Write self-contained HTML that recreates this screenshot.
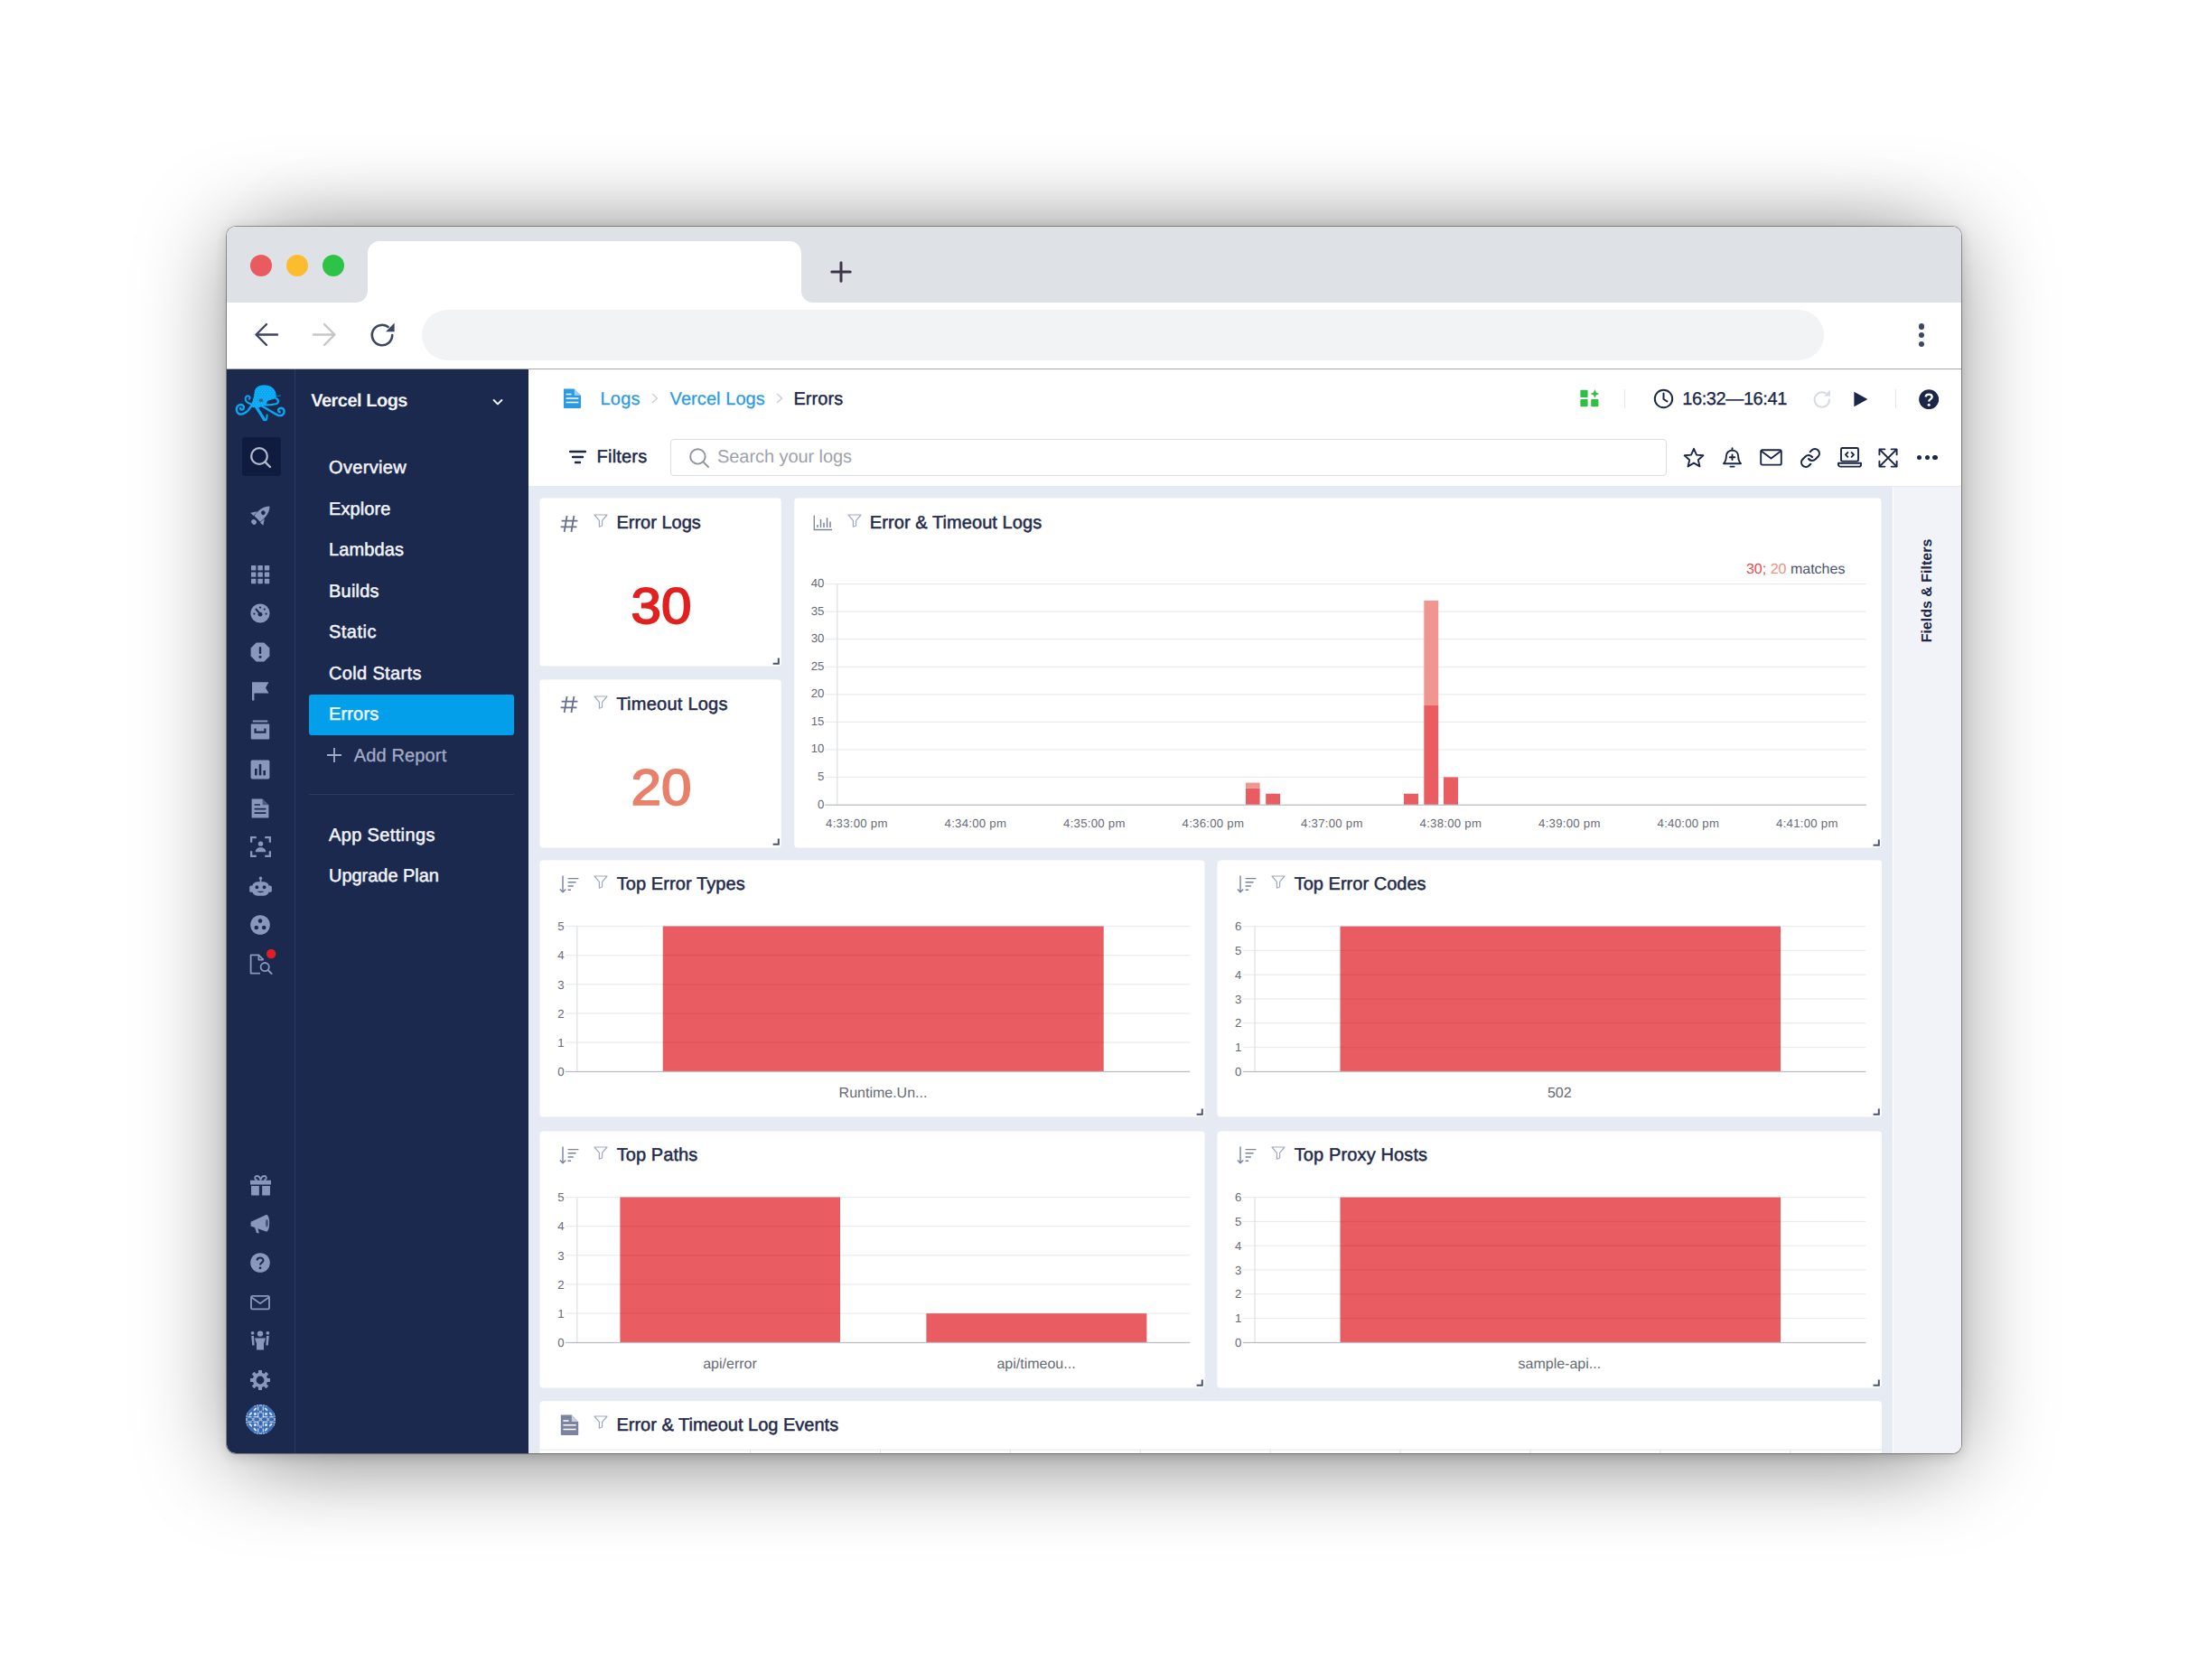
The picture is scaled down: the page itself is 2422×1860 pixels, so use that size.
<!DOCTYPE html>
<html lang="en"><head><meta charset="utf-8"><title>Errors - Vercel Logs</title>
<style>
html,body{margin:0;padding:0;}
body{width:2422px;height:1860px;background:#fff;overflow:hidden;position:relative;
 font-family:"Liberation Sans",sans-serif;}
.b{position:absolute;display:block;}
.t{position:absolute;white-space:nowrap;line-height:1;text-rendering:geometricPrecision;}
#shadow{position:absolute;left:250.5px;top:250.5px;width:1920.5px;height:1358.5px;border-radius:10px;
 box-shadow:0 8px 100px rgba(0,0,0,.40),0 3px 14px rgba(0,0,0,.16),0 0 0 1px rgba(0,0,0,.33);}
#shadow2{position:absolute;left:320px;top:250.5px;width:1782px;height:1358.5px;border-radius:10px;box-shadow:0 2px 90px rgba(0,0,0,.15);}
#win{position:absolute;left:250.5px;top:250.5px;width:1920.5px;height:1358.5px;border-radius:10px;overflow:hidden;background:#fff;}
#abs{position:absolute;left:-250.5px;top:-250.5px;width:2422px;height:1860px;}
</style></head>
<body>
<div id="shadow2"></div>
<div id="shadow"></div>
<div id="win"><div id="abs">
<!-- browser chrome -->
<div class="b" style="left:251.00px;top:251.00px;width:1920.00px;height:84.00px;background:#dee1e6;"></div>
<div class="b" style="left:277px;top:282px;width:24px;height:24px;border-radius:50%;background:#ea5b5f;"></div>
<div class="b" style="left:317px;top:282px;width:24px;height:24px;border-radius:50%;background:#fbbd2e;"></div>
<div class="b" style="left:357px;top:282px;width:24px;height:24px;border-radius:50%;background:#2dc346;"></div>
<svg class="b" style="left:394.00px;top:267.00px;" width="506" height="68" viewBox="0 0 506 68"><path d="M0 68 C7 68 13 62 13 55 L13 13 C13 6 19 0 26 0 L480 0 C487 0 493 6 493 13 L493 55 C493 62 499 68 506 68 Z" fill="#fff"/></svg>
<svg class="b" style="left:918.00px;top:288.00px;" width="26" height="26" viewBox="0 0 26 26"><path d="M13 2.8V23.2M2.8 13H23.2" stroke="#3b3648" stroke-width="3" stroke-linecap="round" fill="none"/></svg>
<div class="b" style="left:251.00px;top:335.00px;width:1920.00px;height:73.00px;background:#fff;"></div>
<div class="b" style="left:251.00px;top:408.00px;width:1920.00px;height:1.00px;background:#a9a9ab;"></div>
<svg class="b" style="left:280.00px;top:356.00px;" width="30" height="30" viewBox="0 0 30 30"><path d="M27 14.5H4M15 3L3.5 14.5L15 26" stroke="#3d4663" stroke-width="2.4" stroke-linecap="round" stroke-linejoin="round" fill="none"/></svg>
<svg class="b" style="left:344.00px;top:356.00px;" width="30" height="30" viewBox="0 0 30 30"><path d="M3 14.5H26M15 3L26.5 14.5L15 26" stroke="#c6c6c6" stroke-width="2.4" stroke-linecap="round" stroke-linejoin="round" fill="none"/></svg>
<svg class="b" style="left:408.00px;top:355.00px;" width="32" height="32" viewBox="0 0 32 32"><path d="M26.2 16A11.2 11.2 0 1 1 21.5 6.9" stroke="#3d4663" stroke-width="2.6" fill="none" stroke-linecap="round"/><path d="M28.6 2.6V12.2H19Z" fill="#3d4663"/></svg>
<div class="b" style="left:467.00px;top:343.00px;width:1552.00px;height:56.00px;background:#f1f3f4;border-radius:28px;"></div>
<div class="b" style="left:2123.8px;top:358.2px;width:6.4px;height:6.4px;border-radius:50%;background:#3d4663;"></div>
<div class="b" style="left:2123.8px;top:368.0px;width:6.4px;height:6.4px;border-radius:50%;background:#3d4663;"></div>
<div class="b" style="left:2123.8px;top:377.8px;width:6.4px;height:6.4px;border-radius:50%;background:#3d4663;"></div>
<!-- sidebar -->
<div class="b" style="left:251.00px;top:409.00px;width:334.30px;height:1200.00px;background:#1b294f;"></div>
<div class="b" style="left:326.00px;top:409.00px;width:1.00px;height:1200.00px;background:#2b3a68;"></div>
<svg class="b" style="left:256.00px;top:420.00px;" width="64" height="52" viewBox="0 0 64 52"><defs><clipPath id="oh"><path d="M25.6 15 C25.6 9 30.5 6.2 36.5 6.2 C43.5 6.2 49.6 10.5 49.6 17.5 C49.6 19.5 49.2 20.6 48.6 21.2 L40.2 23.8 C39.6 25.5 39 27 38.2 28.4 L30 31.4 L20.6 30.4 C23 27 24.6 22 25.6 15Z"/></clipPath></defs><g fill="none" stroke="#06a8f5" stroke-linecap="round" stroke-linejoin="round"><path d="M22 27.2 C19 26.6 16.4 25.4 15.7 22.5 C15 19.5 17.3 18.1 19 18.4 C20.8 18.8 21.2 21 19.8 21.8" stroke-width="2"/><path d="M22 29.6 C19.5 34 15.5 38.6 10.5 38.6 C6.5 38.6 5.4 34.5 6 31.6 C6.8 28.4 10.5 27.2 12.8 28.8 C14.8 30.4 14 33.4 11.8 33.6 C10.6 33.6 10 32.8 10.2 32" stroke-width="2.4"/><path d="M27.6 30.4 L36.4 44.4" stroke-width="3.3"/><path d="M36.4 44.6 C38 45.8 39 45 39.2 43.5 L39.7 39.4" stroke-width="2"/><path d="M34.5 29.8 C40 32.5 46 37.5 52 39.8 C56 41 58.8 38.5 58.6 35.2 C58.4 32.2 55.4 31 53.2 32.2 C51.4 33.4 51.8 36 53.8 36.2" stroke-width="2.4"/><path d="M37.8 28.3 C42 28.3 47 28 50 27 C52.6 26 52.6 23.2 50.5 21.6 L48.5 20.4" stroke-width="2.2"/><path d="M47.5 18.8 L54.5 18" stroke-width="0.7"/></g><path d="M25.6 15 C25.6 9 30.5 6.2 36.5 6.2 C43.5 6.2 49.6 10.5 49.6 17.5 C49.6 19.5 49.2 20.6 48.6 21.2 L40.2 23.8 C39.6 25.5 39 27 38.2 28.4 L30 31.4 L20.6 30.4 C23 27 24.6 22 25.6 15Z" fill="#06a8f5"/><g clip-path="url(#oh)" fill="#86d0f9"><circle cx="20.00" cy="8.60" r="0.45"/><circle cx="22.95" cy="8.60" r="0.45"/><circle cx="25.90" cy="8.60" r="0.45"/><circle cx="28.85" cy="8.60" r="0.45"/><circle cx="31.80" cy="8.60" r="0.45"/><circle cx="34.75" cy="8.60" r="0.45"/><circle cx="37.70" cy="8.60" r="0.45"/><circle cx="40.65" cy="8.60" r="0.45"/><circle cx="43.60" cy="8.60" r="0.45"/><circle cx="46.55" cy="8.60" r="0.45"/><circle cx="49.50" cy="8.60" r="0.45"/><circle cx="21.45" cy="10.60" r="0.45"/><circle cx="24.40" cy="10.60" r="0.45"/><circle cx="27.35" cy="10.60" r="0.45"/><circle cx="30.30" cy="10.60" r="0.45"/><circle cx="33.25" cy="10.60" r="0.45"/><circle cx="36.20" cy="10.60" r="0.45"/><circle cx="39.15" cy="10.60" r="0.45"/><circle cx="42.10" cy="10.60" r="0.45"/><circle cx="45.05" cy="10.60" r="0.45"/><circle cx="48.00" cy="10.60" r="0.45"/><circle cx="50.95" cy="10.60" r="0.45"/><circle cx="20.00" cy="12.60" r="0.45"/><circle cx="22.95" cy="12.60" r="0.45"/><circle cx="25.90" cy="12.60" r="0.45"/><circle cx="28.85" cy="12.60" r="0.45"/><circle cx="31.80" cy="12.60" r="0.45"/><circle cx="34.75" cy="12.60" r="0.45"/><circle cx="37.70" cy="12.60" r="0.45"/><circle cx="40.65" cy="12.60" r="0.45"/><circle cx="43.60" cy="12.60" r="0.45"/><circle cx="46.55" cy="12.60" r="0.45"/><circle cx="49.50" cy="12.60" r="0.45"/><circle cx="21.45" cy="14.60" r="0.45"/><circle cx="24.40" cy="14.60" r="0.45"/><circle cx="27.35" cy="14.60" r="0.45"/><circle cx="30.30" cy="14.60" r="0.45"/><circle cx="33.25" cy="14.60" r="0.45"/><circle cx="36.20" cy="14.60" r="0.45"/><circle cx="39.15" cy="14.60" r="0.45"/><circle cx="42.10" cy="14.60" r="0.45"/><circle cx="45.05" cy="14.60" r="0.45"/><circle cx="48.00" cy="14.60" r="0.45"/><circle cx="50.95" cy="14.60" r="0.45"/><circle cx="20.00" cy="16.60" r="0.45"/><circle cx="22.95" cy="16.60" r="0.45"/><circle cx="25.90" cy="16.60" r="0.45"/><circle cx="28.85" cy="16.60" r="0.45"/><circle cx="31.80" cy="16.60" r="0.45"/><circle cx="34.75" cy="16.60" r="0.45"/><circle cx="37.70" cy="16.60" r="0.45"/><circle cx="40.65" cy="16.60" r="0.45"/><circle cx="43.60" cy="16.60" r="0.45"/><circle cx="46.55" cy="16.60" r="0.45"/><circle cx="49.50" cy="16.60" r="0.45"/><circle cx="21.45" cy="18.60" r="0.45"/><circle cx="24.40" cy="18.60" r="0.45"/><circle cx="27.35" cy="18.60" r="0.45"/><circle cx="30.30" cy="18.60" r="0.45"/><circle cx="33.25" cy="18.60" r="0.45"/><circle cx="36.20" cy="18.60" r="0.45"/><circle cx="39.15" cy="18.60" r="0.45"/><circle cx="42.10" cy="18.60" r="0.45"/><circle cx="45.05" cy="18.60" r="0.45"/><circle cx="48.00" cy="18.60" r="0.45"/><circle cx="50.95" cy="18.60" r="0.45"/><circle cx="20.00" cy="20.60" r="0.45"/><circle cx="22.95" cy="20.60" r="0.45"/><circle cx="25.90" cy="20.60" r="0.45"/><circle cx="28.85" cy="20.60" r="0.45"/><circle cx="31.80" cy="20.60" r="0.45"/><circle cx="34.75" cy="20.60" r="0.45"/><circle cx="37.70" cy="20.60" r="0.45"/><circle cx="40.65" cy="20.60" r="0.45"/><circle cx="43.60" cy="20.60" r="0.45"/><circle cx="46.55" cy="20.60" r="0.45"/><circle cx="49.50" cy="20.60" r="0.45"/><circle cx="21.45" cy="22.60" r="0.45"/><circle cx="24.40" cy="22.60" r="0.45"/><circle cx="27.35" cy="22.60" r="0.45"/><circle cx="30.30" cy="22.60" r="0.45"/><circle cx="33.25" cy="22.60" r="0.45"/><circle cx="36.20" cy="22.60" r="0.45"/><circle cx="39.15" cy="22.60" r="0.45"/><circle cx="42.10" cy="22.60" r="0.45"/><circle cx="45.05" cy="22.60" r="0.45"/><circle cx="48.00" cy="22.60" r="0.45"/><circle cx="50.95" cy="22.60" r="0.45"/><circle cx="20.00" cy="24.60" r="0.45"/><circle cx="22.95" cy="24.60" r="0.45"/><circle cx="25.90" cy="24.60" r="0.45"/><circle cx="28.85" cy="24.60" r="0.45"/><circle cx="31.80" cy="24.60" r="0.45"/><circle cx="34.75" cy="24.60" r="0.45"/><circle cx="37.70" cy="24.60" r="0.45"/><circle cx="40.65" cy="24.60" r="0.45"/><circle cx="43.60" cy="24.60" r="0.45"/><circle cx="46.55" cy="24.60" r="0.45"/><circle cx="49.50" cy="24.60" r="0.45"/><circle cx="21.45" cy="26.60" r="0.45"/><circle cx="24.40" cy="26.60" r="0.45"/><circle cx="27.35" cy="26.60" r="0.45"/><circle cx="30.30" cy="26.60" r="0.45"/><circle cx="33.25" cy="26.60" r="0.45"/><circle cx="36.20" cy="26.60" r="0.45"/><circle cx="39.15" cy="26.60" r="0.45"/><circle cx="42.10" cy="26.60" r="0.45"/><circle cx="45.05" cy="26.60" r="0.45"/><circle cx="48.00" cy="26.60" r="0.45"/><circle cx="50.95" cy="26.60" r="0.45"/><circle cx="20.00" cy="28.60" r="0.45"/><circle cx="22.95" cy="28.60" r="0.45"/><circle cx="25.90" cy="28.60" r="0.45"/><circle cx="28.85" cy="28.60" r="0.45"/><circle cx="31.80" cy="28.60" r="0.45"/><circle cx="34.75" cy="28.60" r="0.45"/><circle cx="37.70" cy="28.60" r="0.45"/><circle cx="40.65" cy="28.60" r="0.45"/><circle cx="43.60" cy="28.60" r="0.45"/><circle cx="46.55" cy="28.60" r="0.45"/><circle cx="49.50" cy="28.60" r="0.45"/><circle cx="21.45" cy="30.60" r="0.45"/><circle cx="24.40" cy="30.60" r="0.45"/><circle cx="27.35" cy="30.60" r="0.45"/><circle cx="30.30" cy="30.60" r="0.45"/><circle cx="33.25" cy="30.60" r="0.45"/><circle cx="36.20" cy="30.60" r="0.45"/><circle cx="39.15" cy="30.60" r="0.45"/><circle cx="42.10" cy="30.60" r="0.45"/><circle cx="45.05" cy="30.60" r="0.45"/><circle cx="48.00" cy="30.60" r="0.45"/><circle cx="50.95" cy="30.60" r="0.45"/></g><rect x="30.9" y="21.6" width="4.1" height="3.3" rx="0.9" fill="#475a86"/></svg>
<div class="b" style="left:267.80px;top:484.00px;width:43.20px;height:43.40px;background:#101c3f;border-radius:3px;"></div>
<svg class="b" style="left:274.00px;top:491.50px;" width="28" height="28" viewBox="0 0 28 28"><circle cx="13" cy="13" r="8.8" fill="none" stroke="#b4bbcf" stroke-width="2.2"/><path d="M19.6 19.6L25 25" stroke="#b4bbcf" stroke-width="2.4" stroke-linecap="round"/></svg>
<svg class="b" style="left:275.00px;top:558.00px;" width="26" height="26" viewBox="0 0 22 22"><g transform="rotate(45 11 11)" fill="#8a97bc"><path d="M11 -1.5 C15 2.5 16 8 15 15 L7 15 C6 8 7 2.5 11 -1.5Z"/><path d="M6.2 10 L2.5 15.5 L6.6 15.5Z M15.8 10 L19.5 15.5 L15.4 15.5Z"/><ellipse cx="11" cy="19.3" rx="2.6" ry="2.2"/><circle cx="11" cy="7" r="2" fill="#1b294f"/></g></svg>
<svg class="b" style="left:277.00px;top:624.50px;" width="22" height="22" viewBox="0 0 22 22"><g fill="#8a97bc"><rect x="1.0" y="1.0" width="5.4" height="5.4" rx="0.6"/><rect x="8.4" y="1.0" width="5.4" height="5.4" rx="0.6"/><rect x="15.8" y="1.0" width="5.4" height="5.4" rx="0.6"/><rect x="1.0" y="8.4" width="5.4" height="5.4" rx="0.6"/><rect x="8.4" y="8.4" width="5.4" height="5.4" rx="0.6"/><rect x="15.8" y="8.4" width="5.4" height="5.4" rx="0.6"/><rect x="1.0" y="15.8" width="5.4" height="5.4" rx="0.6"/><rect x="8.4" y="15.8" width="5.4" height="5.4" rx="0.6"/><rect x="15.8" y="15.8" width="5.4" height="5.4" rx="0.6"/></g></svg>
<svg class="b" style="left:277.00px;top:668.00px;" width="22" height="22" viewBox="0 0 22 22"><circle cx="11" cy="11" r="10.6" fill="#8a97bc"/><g stroke="#1b294f" stroke-width="2" stroke-linecap="round"><path d="M6.5 6.5L11 12"/></g><circle cx="11" cy="12.2" r="2.4" fill="#1b294f"/><g fill="#1b294f"><circle cx="4.4" cy="11.6" r="1.1"/><circle cx="17.6" cy="11.6" r="1.1"/><circle cx="11" cy="4.6" r="1.1"/><circle cx="15.8" cy="6.6" r="1.1"/></g></svg>
<svg class="b" style="left:277.00px;top:710.50px;" width="22" height="22" viewBox="0 0 22 22"><path d="M6.6 0.6H15.4L21.4 6.6V15.4L15.4 21.4H6.6L0.6 15.4V6.6Z" fill="#8a97bc"/><rect x="9.8" y="5" width="2.4" height="8" rx="1" fill="#1b294f"/><circle cx="11" cy="16.2" r="1.5" fill="#1b294f"/></svg>
<svg class="b" style="left:277.00px;top:754.00px;" width="22" height="22" viewBox="0 0 22 22"><path d="M2 1.2H20.5L17 7.4L20.5 13.6H4.4V21.4H2Z" fill="#8a97bc"/></svg>
<svg class="b" style="left:277.00px;top:796.50px;" width="22" height="22" viewBox="0 0 22 22"><rect x="2.6" y="0.6" width="16.8" height="1.8" rx="0.6" fill="#8a97bc"/><path d="M0.8 4.6H21.2V20.4C21.2 21 20.8 21.4 20.2 21.4H1.8C1.2 21.4 0.8 21 0.8 20.4Z" fill="#8a97bc"/><path d="M5.6 9.6V13.6H16.4V9.6" fill="none" stroke="#1b294f" stroke-width="2.2"/></svg>
<svg class="b" style="left:277.00px;top:840.50px;" width="22" height="22" viewBox="0 0 22 22"><rect x="0.6" y="0.6" width="20.8" height="20.8" rx="1.6" fill="#8a97bc"/><g fill="#1b294f"><rect x="5" y="10" width="2.6" height="7.4"/><rect x="9.7" y="5" width="2.6" height="12.4"/><rect x="14.4" y="12" width="2.6" height="5.4"/></g></svg>
<svg class="b" style="left:277.00px;top:883.60px;" width="22" height="22" viewBox="0 0 22 22"><path d="M1.6 0.4H13.6L20.4 7.2V21.6H1.6Z" fill="#8a97bc"/><path d="M13.6 0.4V7.2H20.4" fill="#1b294f" opacity="0.55"/><g stroke="#1b294f" stroke-width="1.7"><path d="M4.6 7H11M4.6 11.6H17.4M4.6 16.2H17.4"/></g></svg>
<svg class="b" style="left:276.50px;top:925.80px;" width="23" height="23" viewBox="0 0 22 22"><g fill="none" stroke="#8a97bc" stroke-width="2.2"><path d="M1.1 6.5V1.1H6.5M15.5 1.1H20.9V6.5M20.9 15.5V20.9H15.5M6.5 20.9H1.1V15.5"/></g><circle cx="11" cy="7.8" r="2.6" fill="#8a97bc"/><path d="M5.4 16.4C5.8 13 8 11.6 11 11.6C14 11.6 16.2 13 16.6 16.4Z" fill="#8a97bc"/></svg>
<svg class="b" style="left:275.50px;top:969.00px;" width="25" height="25" viewBox="0 0 25 22.5"><circle cx="12.5" cy="1.9" r="1.7" fill="#8a97bc"/><rect x="11.6" y="2.5" width="1.8" height="4" fill="#8a97bc"/><rect x="3" y="6" width="19" height="15.6" rx="6" fill="#8a97bc"/><rect x="0.2" y="10.2" width="4" height="7.4" rx="1.6" fill="#8a97bc"/><rect x="20.8" y="10.2" width="4" height="7.4" rx="1.6" fill="#8a97bc"/><circle cx="8.4" cy="12" r="1.9" fill="#1b294f"/><circle cx="16.6" cy="12" r="1.9" fill="#1b294f"/><path d="M8.6 16.6H16.4C15.6 18.4 9.4 18.4 8.6 16.6Z" fill="#1b294f"/></svg>
<svg class="b" style="left:277.00px;top:1013.00px;" width="22" height="22" viewBox="0 0 22 22"><circle cx="11" cy="11" r="10.8" fill="#8a97bc"/><g fill="#1b294f"><circle cx="11" cy="6.6" r="2.3"/><circle cx="6.8" cy="14" r="2.3"/><circle cx="15.2" cy="14" r="2.3"/></g></svg>
<svg class="b" style="left:275.50px;top:1049.00px;" width="32" height="32" viewBox="0 0 32 32"><g fill="none" stroke="#8a97bc" stroke-width="1.8" stroke-linejoin="round"><path d="M12 28.6H1.6V8.4H10.4L15.6 13.6"/><path d="M10.4 8.4V13.6H15.6" /><circle cx="17.2" cy="21.6" r="4.6"/><path d="M20.6 25L24.6 29" stroke-linecap="round"/></g><circle cx="24.2" cy="7" r="5.2" fill="#e02020"/></svg>
<svg class="b" style="left:276.50px;top:1301.00px;" width="23" height="23" viewBox="0 0 22 22"><path d="M7.4 5.2C4.6 5.2 4 1 7 1C9.4 1 10.6 3.4 11 5.2C11.4 3.4 12.6 1 15 1C18 1 17.4 5.2 14.6 5.2" fill="none" stroke="#8a97bc" stroke-width="1.8"/><rect x="-0.6" y="5.4" width="23.2" height="4.6" rx="0.8" fill="#8a97bc"/><path d="M1 11.4H9.4V21.6H2C1.4 21.6 1 21.2 1 20.6Z M12.6 11.4H21V20.6C21 21.2 20.6 21.6 20 21.6H12.6Z" fill="#8a97bc"/></svg>
<svg class="b" style="left:277.00px;top:1344.30px;" width="22" height="22" viewBox="0 0 22 22"><path d="M0.6 8.8L17.6 1V19.4L0.6 13.4Z" fill="#8a97bc"/><ellipse cx="18" cy="10.2" rx="3.2" ry="9.4" fill="#8a97bc"/><ellipse cx="18.4" cy="10.2" rx="1.5" ry="4.2" fill="#1b294f" opacity="0.6"/><path d="M5 14.6L8.4 15.8L9.8 21.4L7 21Z" fill="#8a97bc"/></svg>
<svg class="b" style="left:277.00px;top:1387.30px;" width="22" height="22" viewBox="0 0 22 22"><circle cx="11" cy="11" r="10.8" fill="#8a97bc"/><path d="M7.6 8.4C7.6 4.6 14.4 4.6 14.4 8.4C14.4 10.8 11 10.8 11 13.4" fill="none" stroke="#1b294f" stroke-width="2.1"/><circle cx="11" cy="16.8" r="1.4" fill="#1b294f"/></svg>
<svg class="b" style="left:277.00px;top:1430.50px;" width="22" height="22" viewBox="0 0 22 22"><rect x="1" y="3.8" width="20" height="14.6" rx="1.4" fill="none" stroke="#8a97bc" stroke-width="1.8"/><path d="M1.6 5.4L11 12.2L20.4 5.4" fill="none" stroke="#8a97bc" stroke-width="1.8"/></svg>
<svg class="b" style="left:277.00px;top:1473.40px;" width="22" height="22" viewBox="0 0 22 22"><circle cx="11" cy="3.6" r="3.2" fill="#8a97bc"/><circle cx="2.6" cy="2.8" r="1.9" fill="#8a97bc"/><circle cx="19.4" cy="2.8" r="1.9" fill="#8a97bc"/><path d="M5 8.4H17L15 14.6V21.6H7V14.6Z" fill="#8a97bc"/><path d="M1.2 6H4L4.6 16.6H2.2Z M20.8 6H18L17.4 16.6H19.8Z" fill="#8a97bc"/></svg>
<svg class="b" style="left:277.00px;top:1517.40px;" width="22" height="22" viewBox="0 0 22 22"><g fill="#8a97bc"><rect x="9" y="-0.2" width="4" height="5" rx="0.8" transform="rotate(0 11 11)"/><rect x="9" y="-0.2" width="4" height="5" rx="0.8" transform="rotate(45 11 11)"/><rect x="9" y="-0.2" width="4" height="5" rx="0.8" transform="rotate(90 11 11)"/><rect x="9" y="-0.2" width="4" height="5" rx="0.8" transform="rotate(135 11 11)"/><rect x="9" y="-0.2" width="4" height="5" rx="0.8" transform="rotate(180 11 11)"/><rect x="9" y="-0.2" width="4" height="5" rx="0.8" transform="rotate(225 11 11)"/><rect x="9" y="-0.2" width="4" height="5" rx="0.8" transform="rotate(270 11 11)"/><rect x="9" y="-0.2" width="4" height="5" rx="0.8" transform="rotate(315 11 11)"/></g><circle cx="11" cy="11" r="6.3" fill="none" stroke="#8a97bc" stroke-width="3.8"/></svg>
<svg class="b" style="left:272.00px;top:1554.80px;" width="33" height="33" viewBox="0 0 33 33"><defs><clipPath id="av"><circle cx="16.5" cy="16.5" r="16.5"/></clipPath></defs><g clip-path="url(#av)"><rect width="33" height="33" fill="#3e6fb7"/><rect x="15" y="0" width="3" height="33" fill="#a3b1cf"/><rect x="0" y="15" width="33" height="3" fill="#a3b1cf"/><g fill="#d3e7fa" transform="translate(0,0)"><rect x="9.1" y="9.1" width="2.7" height="2.7"/><ellipse cx="5.3" cy="10.4" rx="2.3" ry="1.05" transform="rotate(-45 5.3 10.4)"/><ellipse cx="10.4" cy="5.3" rx="2.3" ry="1.05" transform="rotate(-45 10.4 5.3)"/><rect x="13.2" y="2.4" width="1.1" height="4.2"/><rect x="13.2" y="8.6" width="1.1" height="5.7"/><rect x="2.4" y="13.2" width="4.2" height="1.1"/><rect x="8.6" y="13.2" width="5.7" height="1.1"/><rect x="7.2" y="0.7" width="3.4" height="1.4"/><rect x="0.7" y="7.2" width="1.4" height="3.4"/><rect x="11.6" y="0.2" width="2.2" height="1.2"/><rect x="0.2" y="11.6" width="1.2" height="2.2"/></g><g fill="#d3e7fa" transform="translate(33,0) scale(-1,1)"><rect x="9.1" y="9.1" width="2.7" height="2.7"/><ellipse cx="5.3" cy="10.4" rx="2.3" ry="1.05" transform="rotate(-45 5.3 10.4)"/><ellipse cx="10.4" cy="5.3" rx="2.3" ry="1.05" transform="rotate(-45 10.4 5.3)"/><rect x="13.2" y="2.4" width="1.1" height="4.2"/><rect x="13.2" y="8.6" width="1.1" height="5.7"/><rect x="2.4" y="13.2" width="4.2" height="1.1"/><rect x="8.6" y="13.2" width="5.7" height="1.1"/><rect x="7.2" y="0.7" width="3.4" height="1.4"/><rect x="0.7" y="7.2" width="1.4" height="3.4"/><rect x="11.6" y="0.2" width="2.2" height="1.2"/><rect x="0.2" y="11.6" width="1.2" height="2.2"/></g><g fill="#d3e7fa" transform="translate(0,33) scale(1,-1)"><rect x="9.1" y="9.1" width="2.7" height="2.7"/><ellipse cx="5.3" cy="10.4" rx="2.3" ry="1.05" transform="rotate(-45 5.3 10.4)"/><ellipse cx="10.4" cy="5.3" rx="2.3" ry="1.05" transform="rotate(-45 10.4 5.3)"/><rect x="13.2" y="2.4" width="1.1" height="4.2"/><rect x="13.2" y="8.6" width="1.1" height="5.7"/><rect x="2.4" y="13.2" width="4.2" height="1.1"/><rect x="8.6" y="13.2" width="5.7" height="1.1"/><rect x="7.2" y="0.7" width="3.4" height="1.4"/><rect x="0.7" y="7.2" width="1.4" height="3.4"/><rect x="11.6" y="0.2" width="2.2" height="1.2"/><rect x="0.2" y="11.6" width="1.2" height="2.2"/></g><g fill="#d3e7fa" transform="translate(33,33) scale(-1,-1)"><rect x="9.1" y="9.1" width="2.7" height="2.7"/><ellipse cx="5.3" cy="10.4" rx="2.3" ry="1.05" transform="rotate(-45 5.3 10.4)"/><ellipse cx="10.4" cy="5.3" rx="2.3" ry="1.05" transform="rotate(-45 10.4 5.3)"/><rect x="13.2" y="2.4" width="1.1" height="4.2"/><rect x="13.2" y="8.6" width="1.1" height="5.7"/><rect x="2.4" y="13.2" width="4.2" height="1.1"/><rect x="8.6" y="13.2" width="5.7" height="1.1"/><rect x="7.2" y="0.7" width="3.4" height="1.4"/><rect x="0.7" y="7.2" width="1.4" height="3.4"/><rect x="11.6" y="0.2" width="2.2" height="1.2"/><rect x="0.2" y="11.6" width="1.2" height="2.2"/></g><g fill="#3667b1"><ellipse cx="16.5" cy="4.4" rx="1.7" ry="2.9"/><ellipse cx="4.4" cy="16.5" rx="2.9" ry="1.7"/><ellipse cx="16.5" cy="12.2" rx="1.7" ry="2.9"/><ellipse cx="12.2" cy="16.5" rx="2.9" ry="1.7"/><ellipse cx="16.5" cy="20.8" rx="1.7" ry="2.9"/><ellipse cx="20.8" cy="16.5" rx="2.9" ry="1.7"/><ellipse cx="16.5" cy="28.6" rx="1.7" ry="2.9"/><ellipse cx="28.6" cy="16.5" rx="2.9" ry="1.7"/></g></g></svg>
<div class="t nv" style="left:344.20px;top:433px;font-size:20px;color:#f2f4f9;font-weight:700;letter-spacing:-0.498px;transform:translate(0,0.8px);">Vercel Logs</div>
<svg class="b" style="left:543.00px;top:436.50px;" width="16" height="16" viewBox="0 0 16 16"><path d="M3.6 6L8 10.4L12.4 6" fill="none" stroke="#f2f4f9" stroke-width="2" stroke-linecap="round" stroke-linejoin="round"/></svg>
<div class="t nv" style="left:364.00px;top:508px;font-size:20px;color:#f2f4f9;-webkit-text-stroke:0.5px #f2f4f9;letter-spacing:0.335px;transform:translate(0,0.3px);">Overview</div>
<div class="t nv" style="left:364.00px;top:553px;font-size:20px;color:#f2f4f9;-webkit-text-stroke:0.5px #f2f4f9;letter-spacing:0.114px;transform:translate(0,0.8px);">Explore</div>
<div class="t nv" style="left:364.00px;top:599px;font-size:20px;color:#f2f4f9;-webkit-text-stroke:0.5px #f2f4f9;letter-spacing:0.12px;transform:translate(0,0.3px);">Lambdas</div>
<div class="t nv" style="left:364.00px;top:644px;font-size:20px;color:#f2f4f9;-webkit-text-stroke:0.5px #f2f4f9;letter-spacing:0.225px;transform:translate(0,0.8px);">Builds</div>
<div class="t nv" style="left:364.00px;top:690px;font-size:20px;color:#f2f4f9;-webkit-text-stroke:0.5px #f2f4f9;letter-spacing:0.476px;transform:translate(0,0.3px);">Static</div>
<div class="t nv" style="left:364.00px;top:735px;font-size:20px;color:#f2f4f9;-webkit-text-stroke:0.5px #f2f4f9;letter-spacing:0.347px;transform:translate(0,0.8px);">Cold Starts</div>
<div class="b" style="left:342.20px;top:769.00px;width:227.20px;height:45.00px;background:#049fea;border-radius:3px;"></div>
<div class="t nv" style="left:364.00px;top:781px;font-size:20px;color:#f2f4f9;-webkit-text-stroke:0.5px #f2f4f9;letter-spacing:0.151px;transform:translate(0,0.3px);">Errors</div>
<svg class="b" style="left:360.00px;top:825.50px;" width="20" height="20" viewBox="0 0 20 20"><path d="M10 2V18M2 10H18" stroke="#a3acc6" stroke-width="1.8" fill="none"/></svg>
<div class="t nv" style="left:391.80px;top:826px;font-size:20px;color:#a3acc6;-webkit-text-stroke:0.3px #a3acc6;letter-spacing:0.136px;transform:translate(0,0.8px);">Add Report</div>
<div class="b" style="left:342.20px;top:879.00px;width:227.20px;height:1.00px;background:#2d3c69;"></div>
<div class="t nv" style="left:364.00px;top:914px;font-size:20px;color:#f2f4f9;-webkit-text-stroke:0.5px #f2f4f9;letter-spacing:0.363px;transform:translate(0,0.7px);">App Settings</div>
<div class="t nv" style="left:364.00px;top:959px;font-size:20px;color:#f2f4f9;-webkit-text-stroke:0.5px #f2f4f9;letter-spacing:-0.028px;transform:translate(0,0.8px);">Upgrade Plan</div>
<!-- header -->
<div class="b" style="left:585.30px;top:409.00px;width:1585.70px;height:129.30px;background:#fff;"></div>
<div class="b" style="left:585.30px;top:538.30px;width:1510.20px;height:1070.70px;background:#e6eaf2;"></div>
<div class="b" style="left:2095.50px;top:538.30px;width:75.50px;height:1070.70px;background:#f1f3f8;"></div>
<div class="b" style="left:585.30px;top:538.30px;width:1585.70px;height:1.00px;background:#e3e8f1;"></div>
<svg class="b" style="left:622.50px;top:430.00px;" width="21" height="22.5" viewBox="0 0 21 22.5"><path d="M1 0.6H12.8L20 7.8V21.2C20 21.7 19.6 22 19.2 22H1.8C1.3 22 1 21.7 1 21.2Z" fill="#2a9be2"/><path d="M12.8 0.6V7.8H20Z" fill="#fff" opacity="0.55"/><g stroke="#fff" stroke-width="1.5"><path d="M3.6 6.6H9.6M3.6 11H17.4M3.6 15.4H17.4"/></g></svg>
<div class="t hd" style="left:664.60px;top:432px;font-size:20px;color:#2a9be2;-webkit-text-stroke:0.25px #2a9be2;letter-spacing:0.143px;">Logs</div>
<svg class="b" style="left:718.00px;top:433.00px;" width="14" height="16" viewBox="0 0 14 16"><path d="M4.5 3.5L9.5 8L4.5 12.5" fill="none" stroke="#c9cedb" stroke-width="1.6" stroke-linecap="round" stroke-linejoin="round"/></svg>
<div class="t hd" style="left:741.60px;top:432px;font-size:20px;color:#2a9be2;-webkit-text-stroke:0.25px #2a9be2;letter-spacing:0.068px;">Vercel Logs</div>
<svg class="b" style="left:856.00px;top:433.00px;" width="14" height="16" viewBox="0 0 14 16"><path d="M4.5 3.5L9.5 8L4.5 12.5" fill="none" stroke="#c9cedb" stroke-width="1.6" stroke-linecap="round" stroke-linejoin="round"/></svg>
<div class="t hd" style="left:878.40px;top:432px;font-size:20px;color:#1b2748;-webkit-text-stroke:0.4px #1b2748;letter-spacing:0.071px;">Errors</div>
<svg class="b" style="left:1749.00px;top:431.00px;" width="22" height="20" viewBox="0 0 22 20"><g fill="#2dc044"><rect x="0.4" y="0.8" width="8.2" height="8.2" rx="0.8"/><rect x="0.4" y="11" width="8.2" height="8.2" rx="0.8"/><rect x="12.2" y="11" width="8.2" height="8.2" rx="0.8"/><path d="M16.4 0L17.8 3.4L21.2 4.9L17.8 6.4L16.4 9.8L15 6.4L11.6 4.9L15 3.4Z"/></g></svg>
<div class="b" style="left:1798.00px;top:431.00px;width:1.00px;height:20.50px;background:#e4e7ee;"></div>
<svg class="b" style="left:1829.50px;top:430.00px;" width="23" height="23" viewBox="0 0 23 23"><circle cx="11.5" cy="11.5" r="9.7" fill="none" stroke="#1b2748" stroke-width="2"/><path d="M11.5 5.6V12L15.4 14.4" fill="none" stroke="#1b2748" stroke-width="2" stroke-linecap="round" stroke-linejoin="round"/></svg>
<div class="t hd" style="left:1862.30px;top:431px;font-size:20px;color:#1b2748;-webkit-text-stroke:0.3px #1b2748;letter-spacing:-0.41px;transform:translate(0,0.9px);">16:32—16:41</div>
<svg class="b" style="left:2005.50px;top:430.00px;" width="22" height="23" viewBox="0 0 22 23"><path d="M19 12.4A8.2 8.2 0 1 1 14.6 5.2" fill="none" stroke="#d6dae2" stroke-width="2" stroke-linecap="round"/><path d="M20 1.6V8.6H13Z" fill="#d6dae2"/></svg>
<svg class="b" style="left:2051.00px;top:432.50px;" width="18" height="18" viewBox="0 0 18 18"><path d="M1.4 0.8L16.4 9L1.4 17.2Z" fill="#1b2748"/></svg>
<div class="b" style="left:2098.00px;top:431.00px;width:1.00px;height:20.50px;background:#e4e7ee;"></div>
<svg class="b" style="left:2123.80px;top:430.50px;" width="22.4" height="22.4" viewBox="0 0 22 22"><circle cx="11" cy="11" r="10.8" fill="#1b2748"/><path d="M7.6 8.4C7.6 4.6 14.4 4.6 14.4 8.4C14.4 10.8 11 10.6 11 13.2" fill="none" stroke="#fff" stroke-width="2.3"/><circle cx="11" cy="16.9" r="1.5" fill="#fff"/></svg>
<svg class="b" style="left:630.00px;top:498.00px;" width="19" height="16" viewBox="0 0 19 16"><path d="M1 2H18M4 8H15M7 14H12" stroke="#1b2748" stroke-width="2.4" stroke-linecap="round" fill="none"/></svg>
<div class="t hd" style="left:660.60px;top:496px;font-size:20px;color:#1b2748;-webkit-text-stroke:0.45px #1b2748;letter-spacing:0.192px;transform:translate(0,0.4px);">Filters</div>
<div class="b" style="left:741.5px;top:485.5px;width:1103px;height:41px;box-sizing:border-box;border:1px solid #d9dde7;border-radius:4px;background:#fff;"></div>
<svg class="b" style="left:761.00px;top:493.50px;" width="26" height="26" viewBox="0 0 26 26"><circle cx="11.4" cy="11.4" r="8.2" fill="none" stroke="#8f939c" stroke-width="1.9"/><path d="M17.4 17.4L23 23" stroke="#8f939c" stroke-width="2" stroke-linecap="round"/></svg>
<div class="t hd" style="left:794.00px;top:496px;font-size:20px;color:#9ea2ab;letter-spacing:-0.066px;transform:translate(0,0.4px);">Search your logs</div>
<svg class="b" style="left:1863.00px;top:494.50px;" width="24" height="24" viewBox="0 0 24 24"><path d="M12 1.8L15 8.6L22.4 9.3L16.8 14.2L18.5 21.4L12 17.6L5.5 21.4L7.2 14.2L1.6 9.3L9 8.6Z" fill="none" stroke="#1b2748" stroke-width="1.9" stroke-linejoin="round" stroke-linecap="round"/></svg>
<svg class="b" style="left:1906.00px;top:494.50px;" width="23" height="24" viewBox="0 0 23 24"><path d="M2 18.2H21C19 16.2 18.2 14.4 18.2 10.6C18.2 6.4 15.4 3.6 11.5 3.6C7.6 3.6 4.8 6.4 4.8 10.6C4.8 14.4 4 16.2 2 18.2Z" fill="none" stroke="#1b2748" stroke-width="1.9" stroke-linejoin="round" stroke-linecap="round"/><path d="M11.5 1.2V3.4M9.4 21.6H13.6" fill="none" stroke="#1b2748" stroke-width="1.9" stroke-linejoin="round" stroke-linecap="round"/><path d="M11.5 8.4V14M8.7 11.2H14.3" fill="none" stroke="#1b2748" stroke-width="1.9" stroke-linejoin="round" stroke-linecap="round"/></svg>
<svg class="b" style="left:1948.00px;top:497.00px;" width="25" height="19" viewBox="0 0 25 19"><rect x="1.2" y="1.2" width="22.6" height="16.4" rx="1.6" fill="none" stroke="#1b2748" stroke-width="1.9" stroke-linejoin="round" stroke-linecap="round"/><path d="M1.8 2.6L12.5 10.6L23.2 2.6" fill="none" stroke="#1b2748" stroke-width="1.9" stroke-linejoin="round" stroke-linecap="round"/></svg>
<svg class="b" style="left:1991.50px;top:494.50px;" width="24" height="24" viewBox="0 0 24 24"><g fill="none" stroke="#1b2748" stroke-width="2.1" stroke-linecap="round" stroke-linejoin="round"><path d="M10 13a5 5 0 0 0 7.54.54l3-3a5 5 0 0 0-7.07-7.07l-1.72 1.71"/><path d="M14 11a5 5 0 0 0-7.54-.54l-3 3a5 5 0 0 0 7.07 7.07l1.71-1.71"/></g></svg>
<svg class="b" style="left:2033.50px;top:494.50px;" width="27" height="23" viewBox="0 0 27 23"><rect x="4" y="1" width="19" height="14.6" rx="1.4" fill="none" stroke="#1b2748" stroke-width="1.9" stroke-linejoin="round" stroke-linecap="round"/><path d="M1 17.8H26V19.4C26 20.6 25 21.6 23.8 21.6H3.2C2 21.6 1 20.6 1 19.4Z" fill="none" stroke="#1b2748" stroke-width="1.9" stroke-linejoin="round" stroke-linecap="round"/><path d="M11.4 6L9 8.4L11.4 10.8M15.6 6L18 8.4L15.6 10.8" fill="none" stroke="#1b2748" stroke-width="1.9" stroke-linejoin="round" stroke-linecap="round"/></svg>
<svg class="b" style="left:2078.50px;top:495.50px;" width="22" height="22" viewBox="0 0 22 22"><path d="M2 2L20 20M20 2L2 20" fill="none" stroke="#1b2748" stroke-width="1.9" stroke-linejoin="round" stroke-linecap="round"/><path d="M1.4 7.4V1.4H7.4M14.6 1.4H20.6V7.4M20.6 14.6V20.6H14.6M7.4 20.6H1.4V14.6" fill="none" stroke="#1b2748" stroke-width="1.9" stroke-linejoin="round" stroke-linecap="round"/></svg>
<div class="b" style="left:2122.1px;top:503.7px;width:5.4px;height:5.4px;border-radius:50%;background:#1b2748;"></div>
<div class="b" style="left:2130.7px;top:503.7px;width:5.4px;height:5.4px;border-radius:50%;background:#1b2748;"></div>
<div class="b" style="left:2139.3px;top:503.7px;width:5.4px;height:5.4px;border-radius:50%;background:#1b2748;"></div>
<div class="t" style="left:2134px;top:653.5px;font-size:16px;font-weight:700;color:#1b2748;transform:translate(-50%,-50%) rotate(-90deg);">Fields &amp; Filters</div>
<!-- cards -->
<svg class="b" style="left:585px;top:538px;" width="1586" height="1071" viewBox="585 538 1586 1071"><rect x="597.50" y="551.50" width="267.20" height="186.00" rx="3.5" fill="#fff"/><rect x="597.50" y="752.40" width="267.20" height="186.00" rx="3.5" fill="#fff"/><rect x="879.30" y="551.50" width="1203.10" height="387.00" rx="3.5" fill="#fff"/><rect x="913.20" y="859.85" width="1152.40" height="1.20" fill="#e9ebee"/><rect x="913.20" y="829.30" width="1152.40" height="1.20" fill="#e9ebee"/><rect x="913.20" y="798.75" width="1152.40" height="1.20" fill="#e9ebee"/><rect x="913.20" y="768.20" width="1152.40" height="1.20" fill="#e9ebee"/><rect x="913.20" y="737.65" width="1152.40" height="1.20" fill="#e9ebee"/><rect x="913.20" y="707.10" width="1152.40" height="1.20" fill="#e9ebee"/><rect x="913.20" y="676.55" width="1152.40" height="1.20" fill="#e9ebee"/><rect x="913.20" y="646.00" width="1152.40" height="1.20" fill="#e9ebee"/><rect x="926.20" y="646.50" width="1.20" height="244.50" fill="#dcdfe3"/><rect x="1379.00" y="872.67" width="15.60" height="18.33" fill="#e95c62"/><rect x="1379.00" y="866.56" width="15.60" height="6.11" fill="#ee968f"/><rect x="1401.20" y="878.78" width="15.80" height="12.22" fill="#e95c62"/><rect x="1554.00" y="878.78" width="16.00" height="12.22" fill="#e95c62"/><rect x="1576.30" y="781.02" width="15.90" height="109.98" fill="#e95c62"/><rect x="1576.30" y="664.93" width="15.90" height="116.09" fill="#ee968f"/><rect x="1598.00" y="860.45" width="16.00" height="30.55" fill="#e95c62"/><rect x="913.20" y="890.55" width="1152.80" height="1.30" fill="#bcbec3"/><rect x="597.50" y="952.50" width="736.00" height="284.00" rx="3.5" fill="#fff"/><rect x="626.00" y="1153.54" width="691.20" height="1.20" fill="#e9ebee"/><rect x="626.00" y="1121.38" width="691.20" height="1.20" fill="#e9ebee"/><rect x="626.00" y="1089.22" width="691.20" height="1.20" fill="#e9ebee"/><rect x="626.00" y="1057.06" width="691.20" height="1.20" fill="#e9ebee"/><rect x="626.00" y="1024.90" width="691.20" height="1.20" fill="#e9ebee"/><rect x="638.20" y="1025.50" width="1.20" height="160.80" fill="#dcdfe3"/><rect x="733.70" y="1025.50" width="488.00" height="160.80" fill="#e95c62"/><rect x="733.70" y="1153.54" width="488.00" height="1.20" fill="rgba(120,20,30,0.10)"/><rect x="733.70" y="1121.38" width="488.00" height="1.20" fill="rgba(120,20,30,0.10)"/><rect x="733.70" y="1089.22" width="488.00" height="1.20" fill="rgba(120,20,30,0.10)"/><rect x="733.70" y="1057.06" width="488.00" height="1.20" fill="rgba(120,20,30,0.10)"/><rect x="626.00" y="1185.85" width="691.20" height="1.30" fill="#bcbec3"/><rect x="1347.50" y="952.50" width="735.50" height="284.00" rx="3.5" fill="#fff"/><rect x="1375.80" y="1158.92" width="689.60" height="1.20" fill="#e9ebee"/><rect x="1375.80" y="1132.13" width="689.60" height="1.20" fill="#e9ebee"/><rect x="1375.80" y="1105.35" width="689.60" height="1.20" fill="#e9ebee"/><rect x="1375.80" y="1078.57" width="689.60" height="1.20" fill="#e9ebee"/><rect x="1375.80" y="1051.78" width="689.60" height="1.20" fill="#e9ebee"/><rect x="1375.80" y="1025.00" width="689.60" height="1.20" fill="#e9ebee"/><rect x="1388.40" y="1025.60" width="1.20" height="160.70" fill="#dcdfe3"/><rect x="1483.50" y="1025.60" width="487.50" height="160.70" fill="#e95c62"/><rect x="1483.50" y="1158.92" width="487.50" height="1.20" fill="rgba(120,20,30,0.10)"/><rect x="1483.50" y="1132.13" width="487.50" height="1.20" fill="rgba(120,20,30,0.10)"/><rect x="1483.50" y="1105.35" width="487.50" height="1.20" fill="rgba(120,20,30,0.10)"/><rect x="1483.50" y="1078.57" width="487.50" height="1.20" fill="rgba(120,20,30,0.10)"/><rect x="1483.50" y="1051.78" width="487.50" height="1.20" fill="rgba(120,20,30,0.10)"/><rect x="1375.80" y="1185.85" width="689.60" height="1.30" fill="#bcbec3"/><rect x="597.50" y="1252.50" width="736.00" height="284.00" rx="3.5" fill="#fff"/><rect x="626.00" y="1453.54" width="691.20" height="1.20" fill="#e9ebee"/><rect x="626.00" y="1421.38" width="691.20" height="1.20" fill="#e9ebee"/><rect x="626.00" y="1389.22" width="691.20" height="1.20" fill="#e9ebee"/><rect x="626.00" y="1357.06" width="691.20" height="1.20" fill="#e9ebee"/><rect x="626.00" y="1324.90" width="691.20" height="1.20" fill="#e9ebee"/><rect x="638.20" y="1325.50" width="1.20" height="160.80" fill="#dcdfe3"/><rect x="686.40" y="1325.50" width="243.60" height="160.80" fill="#e95c62"/><rect x="1025.40" y="1454.14" width="244.00" height="32.16" fill="#e95c62"/><rect x="686.40" y="1453.54" width="243.60" height="1.20" fill="rgba(120,20,30,0.10)"/><rect x="686.40" y="1421.38" width="243.60" height="1.20" fill="rgba(120,20,30,0.10)"/><rect x="686.40" y="1389.22" width="243.60" height="1.20" fill="rgba(120,20,30,0.10)"/><rect x="686.40" y="1357.06" width="243.60" height="1.20" fill="rgba(120,20,30,0.10)"/><rect x="626.00" y="1485.85" width="691.20" height="1.30" fill="#bcbec3"/><rect x="1347.50" y="1252.50" width="735.50" height="284.00" rx="3.5" fill="#fff"/><rect x="1375.80" y="1458.92" width="689.60" height="1.20" fill="#e9ebee"/><rect x="1375.80" y="1432.13" width="689.60" height="1.20" fill="#e9ebee"/><rect x="1375.80" y="1405.35" width="689.60" height="1.20" fill="#e9ebee"/><rect x="1375.80" y="1378.57" width="689.60" height="1.20" fill="#e9ebee"/><rect x="1375.80" y="1351.78" width="689.60" height="1.20" fill="#e9ebee"/><rect x="1375.80" y="1325.00" width="689.60" height="1.20" fill="#e9ebee"/><rect x="1388.40" y="1325.60" width="1.20" height="160.70" fill="#dcdfe3"/><rect x="1483.50" y="1325.60" width="487.50" height="160.70" fill="#e95c62"/><rect x="1483.50" y="1458.92" width="487.50" height="1.20" fill="rgba(120,20,30,0.10)"/><rect x="1483.50" y="1432.13" width="487.50" height="1.20" fill="rgba(120,20,30,0.10)"/><rect x="1483.50" y="1405.35" width="487.50" height="1.20" fill="rgba(120,20,30,0.10)"/><rect x="1483.50" y="1378.57" width="487.50" height="1.20" fill="rgba(120,20,30,0.10)"/><rect x="1483.50" y="1351.78" width="487.50" height="1.20" fill="rgba(120,20,30,0.10)"/><rect x="1375.80" y="1485.85" width="689.60" height="1.30" fill="#bcbec3"/><rect x="597.50" y="1551.30" width="1485.50" height="68.70" rx="3.5" fill="#fff"/><rect x="597.50" y="1604.40" width="1485.50" height="1.20" fill="#e9ebee"/><rect x="830.00" y="1605.00" width="1.20" height="4.00" fill="#e3e5e9"/><rect x="973.90" y="1605.00" width="1.20" height="4.00" fill="#e3e5e9"/><rect x="1117.80" y="1605.00" width="1.20" height="4.00" fill="#e3e5e9"/><rect x="1261.70" y="1605.00" width="1.20" height="4.00" fill="#e3e5e9"/><rect x="1405.60" y="1605.00" width="1.20" height="4.00" fill="#e3e5e9"/><rect x="1549.50" y="1605.00" width="1.20" height="4.00" fill="#e3e5e9"/><rect x="1693.40" y="1605.00" width="1.20" height="4.00" fill="#e3e5e9"/><rect x="1837.30" y="1605.00" width="1.20" height="4.00" fill="#e3e5e9"/><rect x="1981.20" y="1605.00" width="1.20" height="4.00" fill="#e3e5e9"/></svg>
<svg class="b" style="left:620.40px;top:569.50px;" width="20" height="20" viewBox="0 0 20 20"><path d="M7.6 1L4.6 19M15.4 1L12.4 19M1.6 6.6H19.4M0.6 13.4H18.4" fill="none" stroke="#67718f" stroke-width="1.8"/></svg>
<svg class="b" style="left:657.00px;top:569.10px;" width="16" height="15" viewBox="0 0 16 15"><path d="M1 1H15L9.6 7.4V13L6.4 14.2V7.4Z" fill="none" stroke="#9fa9c2" stroke-width="1.2" stroke-linejoin="round"/></svg>
<div class="t ct" style="left:682.40px;top:568px;font-size:20px;color:#1f2a4a;-webkit-text-stroke:0.5px #1f2a4a;letter-spacing:0.003px;transform:translate(0,0.7px);">Error Logs</div>
<div class="t big" style="left:731.80px;top:643px;font-size:56px;color:#e0211f;-webkit-text-stroke:1.7px #e0211f;transform:translate(-50%,0.9px);transform:translate(-50%,0) scaleX(1.075);">30</div>
<svg class="b" style="left:855.10px;top:727.50px;" width="8" height="8" viewBox="0 0 8 8"><path d="M0.6 6.8H6.8V0.6" fill="none" stroke="#4a5472" stroke-width="2"/></svg>
<svg class="b" style="left:620.40px;top:770.40px;" width="20" height="20" viewBox="0 0 20 20"><path d="M7.6 1L4.6 19M15.4 1L12.4 19M1.6 6.6H19.4M0.6 13.4H18.4" fill="none" stroke="#67718f" stroke-width="1.8"/></svg>
<svg class="b" style="left:657.00px;top:770.00px;" width="16" height="15" viewBox="0 0 16 15"><path d="M1 1H15L9.6 7.4V13L6.4 14.2V7.4Z" fill="none" stroke="#9fa9c2" stroke-width="1.2" stroke-linejoin="round"/></svg>
<div class="t ct" style="left:682.40px;top:769px;font-size:20px;color:#1f2a4a;-webkit-text-stroke:0.5px #1f2a4a;letter-spacing:0.242px;transform:translate(0,0.6px);">Timeout Logs</div>
<div class="t big" style="left:731.80px;top:844px;font-size:56px;color:#e8806a;-webkit-text-stroke:1.7px #e8806a;transform:translate(-50%,0.8px);transform:translate(-50%,0) scaleX(1.075);">20</div>
<svg class="b" style="left:855.10px;top:928.40px;" width="8" height="8" viewBox="0 0 8 8"><path d="M0.6 6.8H6.8V0.6" fill="none" stroke="#4a5472" stroke-width="2"/></svg>
<svg class="b" style="left:899.60px;top:570.20px;" width="22" height="17.6" viewBox="0 0 23 19"><path d="M1 0.6V17.8H22.4" fill="none" stroke="#7a84a0" stroke-width="1.4"/><path d="M5 15.2V12M8.8 15.2V5.4M12.6 15.2V9.4M16.4 15.2V3.4M20.2 15.2V8" fill="none" stroke="#7a84a0" stroke-width="1.6"/></svg>
<svg class="b" style="left:937.60px;top:569.00px;" width="16" height="15" viewBox="0 0 16 15"><path d="M1 1H15L9.6 7.4V13L6.4 14.2V7.4Z" fill="none" stroke="#9fa9c2" stroke-width="1.2" stroke-linejoin="round"/></svg>
<div class="t ct" style="left:962.80px;top:568px;font-size:20px;color:#1f2a4a;-webkit-text-stroke:0.5px #1f2a4a;letter-spacing:0.075px;transform:translate(0,0.7px);">Error &amp; Timeout Logs</div>
<div class="t ax" style="left:2042.4px;top:623.40px;font-size:16px;transform:translateX(-100%);color:#4a5572;"><span style="color:#e14c4f">30;</span> <span style="color:#ef917e">20</span> matches</div>
<div class="t ax" style="left:912.40px;top:883px;font-size:13.2px;color:#666b74;transform:translate(-100%,0.56px);">0</div>
<div class="t ax" style="left:912.40px;top:853px;font-size:13.2px;color:#666b74;transform:translate(-100%,0.01px);">5</div>
<div class="t ax" style="left:912.40px;top:822px;font-size:13.2px;color:#666b74;transform:translate(-100%,0.46px);">10</div>
<div class="t ax" style="left:912.40px;top:791px;font-size:13.2px;color:#666b74;transform:translate(-100%,0.91px);">15</div>
<div class="t ax" style="left:912.40px;top:761px;font-size:13.2px;color:#666b74;transform:translate(-100%,0.36px);">20</div>
<div class="t ax" style="left:912.40px;top:730px;font-size:13.2px;color:#666b74;transform:translate(-100%,0.81px);">25</div>
<div class="t ax" style="left:912.40px;top:700px;font-size:13.2px;color:#666b74;transform:translate(-100%,0.26px);">30</div>
<div class="t ax" style="left:912.40px;top:669px;font-size:13.2px;color:#666b74;transform:translate(-100%,0.71px);">35</div>
<div class="t ax" style="left:912.40px;top:639px;font-size:13.2px;color:#666b74;transform:translate(-100%,0.16px);">40</div>
<div class="t ax" style="left:948.40px;top:904px;font-size:13.2px;color:#666b74;letter-spacing:0.262px;transform:translate(-50%,0.86px);">4:33:00 pm</div>
<div class="t ax" style="left:1079.90px;top:904px;font-size:13.2px;color:#666b74;letter-spacing:0.262px;transform:translate(-50%,0.86px);">4:34:00 pm</div>
<div class="t ax" style="left:1211.40px;top:904px;font-size:13.2px;color:#666b74;letter-spacing:0.262px;transform:translate(-50%,0.86px);">4:35:00 pm</div>
<div class="t ax" style="left:1342.90px;top:904px;font-size:13.2px;color:#666b74;letter-spacing:0.262px;transform:translate(-50%,0.86px);">4:36:00 pm</div>
<div class="t ax" style="left:1474.40px;top:904px;font-size:13.2px;color:#666b74;letter-spacing:0.262px;transform:translate(-50%,0.86px);">4:37:00 pm</div>
<div class="t ax" style="left:1605.90px;top:904px;font-size:13.2px;color:#666b74;letter-spacing:0.262px;transform:translate(-50%,0.86px);">4:38:00 pm</div>
<div class="t ax" style="left:1737.40px;top:904px;font-size:13.2px;color:#666b74;letter-spacing:0.262px;transform:translate(-50%,0.86px);">4:39:00 pm</div>
<div class="t ax" style="left:1868.90px;top:904px;font-size:13.2px;color:#666b74;letter-spacing:0.262px;transform:translate(-50%,0.86px);">4:40:00 pm</div>
<div class="t ax" style="left:2000.40px;top:904px;font-size:13.2px;color:#666b74;letter-spacing:0.262px;transform:translate(-50%,0.86px);">4:41:00 pm</div>
<svg class="b" style="left:2072.80px;top:928.50px;" width="8" height="8" viewBox="0 0 8 8"><path d="M0.6 6.8H6.8V0.6" fill="none" stroke="#4a5472" stroke-width="2"/></svg>
<svg class="b" style="left:619.10px;top:969.10px;" width="22" height="20" viewBox="0 0 22 20"><path d="M4 0.6V18.4M0.8 15.4L4 18.8L7.2 15.4" fill="none" stroke="#7a84a0" stroke-width="1.4" stroke-linejoin="round"/><path d="M9.6 3.6H21.4M9.6 7.8H18.6M9.6 12H15.8M9.6 16.2H13" fill="none" stroke="#7a84a0" stroke-width="1.4"/></svg>
<svg class="b" style="left:657.10px;top:968.90px;" width="16" height="15" viewBox="0 0 16 15"><path d="M1 1H15L9.6 7.4V13L6.4 14.2V7.4Z" fill="none" stroke="#9fa9c2" stroke-width="1.2" stroke-linejoin="round"/></svg>
<div class="t ct" style="left:682.70px;top:969px;font-size:20px;color:#1f2a4a;-webkit-text-stroke:0.5px #1f2a4a;letter-spacing:0.085px;transform:translate(0,0.1px);">Top Error Types</div>
<div class="t ax" style="left:624.50px;top:1180px;font-size:13.2px;color:#666b74;transform:translate(-100%,0.06px);">0</div>
<div class="t ax" style="left:624.50px;top:1147px;font-size:13.2px;color:#666b74;transform:translate(-100%,0.9px);">1</div>
<div class="t ax" style="left:624.50px;top:1115px;font-size:13.2px;color:#666b74;transform:translate(-100%,0.74px);">2</div>
<div class="t ax" style="left:624.50px;top:1083px;font-size:13.2px;color:#666b74;transform:translate(-100%,0.58px);">3</div>
<div class="t ax" style="left:624.50px;top:1051px;font-size:13.2px;color:#666b74;transform:translate(-100%,0.42px);">4</div>
<div class="t ax" style="left:624.50px;top:1019px;font-size:13.2px;color:#666b74;transform:translate(-100%,0.26px);">5</div>
<div class="t ax" style="left:977.50px;top:1202px;font-size:16px;color:#666b74;transform:translate(-50%,0.6px);">Runtime.Un...</div>
<svg class="b" style="left:1323.90px;top:1226.50px;" width="8" height="8" viewBox="0 0 8 8"><path d="M0.6 6.8H6.8V0.6" fill="none" stroke="#4a5472" stroke-width="2"/></svg>
<svg class="b" style="left:1369.10px;top:969.10px;" width="22" height="20" viewBox="0 0 22 20"><path d="M4 0.6V18.4M0.8 15.4L4 18.8L7.2 15.4" fill="none" stroke="#7a84a0" stroke-width="1.4" stroke-linejoin="round"/><path d="M9.6 3.6H21.4M9.6 7.8H18.6M9.6 12H15.8M9.6 16.2H13" fill="none" stroke="#7a84a0" stroke-width="1.4"/></svg>
<svg class="b" style="left:1407.10px;top:968.90px;" width="16" height="15" viewBox="0 0 16 15"><path d="M1 1H15L9.6 7.4V13L6.4 14.2V7.4Z" fill="none" stroke="#9fa9c2" stroke-width="1.2" stroke-linejoin="round"/></svg>
<div class="t ct" style="left:1432.70px;top:969px;font-size:20px;color:#1f2a4a;-webkit-text-stroke:0.5px #1f2a4a;letter-spacing:0.02px;transform:translate(0,0.1px);">Top Error Codes</div>
<div class="t ax" style="left:1374.30px;top:1180px;font-size:13.2px;color:#666b74;transform:translate(-100%,0.06px);">0</div>
<div class="t ax" style="left:1374.30px;top:1153px;font-size:13.2px;color:#666b74;transform:translate(-100%,0.28px);">1</div>
<div class="t ax" style="left:1374.30px;top:1126px;font-size:13.2px;color:#666b74;transform:translate(-100%,0.49px);">2</div>
<div class="t ax" style="left:1374.30px;top:1099px;font-size:13.2px;color:#666b74;transform:translate(-100%,0.71px);">3</div>
<div class="t ax" style="left:1374.30px;top:1072px;font-size:13.2px;color:#666b74;transform:translate(-100%,0.93px);">4</div>
<div class="t ax" style="left:1374.30px;top:1046px;font-size:13.2px;color:#666b74;transform:translate(-100%,0.14px);">5</div>
<div class="t ax" style="left:1374.30px;top:1019px;font-size:13.2px;color:#666b74;transform:translate(-100%,0.36px);">6</div>
<div class="t ax" style="left:1726.30px;top:1202px;font-size:16px;color:#666b74;transform:translate(-50%,0.6px);">502</div>
<svg class="b" style="left:2073.40px;top:1226.50px;" width="8" height="8" viewBox="0 0 8 8"><path d="M0.6 6.8H6.8V0.6" fill="none" stroke="#4a5472" stroke-width="2"/></svg>
<svg class="b" style="left:619.10px;top:1269.10px;" width="22" height="20" viewBox="0 0 22 20"><path d="M4 0.6V18.4M0.8 15.4L4 18.8L7.2 15.4" fill="none" stroke="#7a84a0" stroke-width="1.4" stroke-linejoin="round"/><path d="M9.6 3.6H21.4M9.6 7.8H18.6M9.6 12H15.8M9.6 16.2H13" fill="none" stroke="#7a84a0" stroke-width="1.4"/></svg>
<svg class="b" style="left:657.10px;top:1268.90px;" width="16" height="15" viewBox="0 0 16 15"><path d="M1 1H15L9.6 7.4V13L6.4 14.2V7.4Z" fill="none" stroke="#9fa9c2" stroke-width="1.2" stroke-linejoin="round"/></svg>
<div class="t ct" style="left:682.70px;top:1269px;font-size:20px;color:#1f2a4a;-webkit-text-stroke:0.5px #1f2a4a;letter-spacing:0.082px;transform:translate(0,0.1px);">Top Paths</div>
<div class="t ax" style="left:624.50px;top:1480px;font-size:13.2px;color:#666b74;transform:translate(-100%,0.06px);">0</div>
<div class="t ax" style="left:624.50px;top:1447px;font-size:13.2px;color:#666b74;transform:translate(-100%,0.9px);">1</div>
<div class="t ax" style="left:624.50px;top:1415px;font-size:13.2px;color:#666b74;transform:translate(-100%,0.74px);">2</div>
<div class="t ax" style="left:624.50px;top:1383px;font-size:13.2px;color:#666b74;transform:translate(-100%,0.58px);">3</div>
<div class="t ax" style="left:624.50px;top:1351px;font-size:13.2px;color:#666b74;transform:translate(-100%,0.42px);">4</div>
<div class="t ax" style="left:624.50px;top:1319px;font-size:13.2px;color:#666b74;transform:translate(-100%,0.26px);">5</div>
<div class="t ax" style="left:808.00px;top:1502px;font-size:16px;color:#666b74;transform:translate(-50%,0.6px);">api/error</div>
<div class="t ax" style="left:1147.00px;top:1502px;font-size:16px;color:#666b74;transform:translate(-50%,0.6px);">api/timeou...</div>
<svg class="b" style="left:1323.90px;top:1526.50px;" width="8" height="8" viewBox="0 0 8 8"><path d="M0.6 6.8H6.8V0.6" fill="none" stroke="#4a5472" stroke-width="2"/></svg>
<svg class="b" style="left:1369.10px;top:1269.10px;" width="22" height="20" viewBox="0 0 22 20"><path d="M4 0.6V18.4M0.8 15.4L4 18.8L7.2 15.4" fill="none" stroke="#7a84a0" stroke-width="1.4" stroke-linejoin="round"/><path d="M9.6 3.6H21.4M9.6 7.8H18.6M9.6 12H15.8M9.6 16.2H13" fill="none" stroke="#7a84a0" stroke-width="1.4"/></svg>
<svg class="b" style="left:1407.10px;top:1268.90px;" width="16" height="15" viewBox="0 0 16 15"><path d="M1 1H15L9.6 7.4V13L6.4 14.2V7.4Z" fill="none" stroke="#9fa9c2" stroke-width="1.2" stroke-linejoin="round"/></svg>
<div class="t ct" style="left:1432.70px;top:1269px;font-size:20px;color:#1f2a4a;-webkit-text-stroke:0.5px #1f2a4a;letter-spacing:0.128px;transform:translate(0,0.1px);">Top Proxy Hosts</div>
<div class="t ax" style="left:1374.30px;top:1480px;font-size:13.2px;color:#666b74;transform:translate(-100%,0.06px);">0</div>
<div class="t ax" style="left:1374.30px;top:1453px;font-size:13.2px;color:#666b74;transform:translate(-100%,0.28px);">1</div>
<div class="t ax" style="left:1374.30px;top:1426px;font-size:13.2px;color:#666b74;transform:translate(-100%,0.49px);">2</div>
<div class="t ax" style="left:1374.30px;top:1399px;font-size:13.2px;color:#666b74;transform:translate(-100%,0.71px);">3</div>
<div class="t ax" style="left:1374.30px;top:1372px;font-size:13.2px;color:#666b74;transform:translate(-100%,0.93px);">4</div>
<div class="t ax" style="left:1374.30px;top:1346px;font-size:13.2px;color:#666b74;transform:translate(-100%,0.14px);">5</div>
<div class="t ax" style="left:1374.30px;top:1319px;font-size:13.2px;color:#666b74;transform:translate(-100%,0.36px);">6</div>
<div class="t ax" style="left:1726.30px;top:1502px;font-size:16px;color:#666b74;transform:translate(-50%,0.6px);">sample-api...</div>
<svg class="b" style="left:2073.40px;top:1526.50px;" width="8" height="8" viewBox="0 0 8 8"><path d="M0.6 6.8H6.8V0.6" fill="none" stroke="#4a5472" stroke-width="2"/></svg>
<svg class="b" style="left:619.60px;top:1566.00px;" width="21" height="23.5" viewBox="0 0 21 23.5"><path d="M0.8 0.6H12.8L20.2 8V22.2C20.2 22.6 19.9 23 19.4 23H1.6C1.1 23 0.8 22.6 0.8 22.2Z" fill="#7a84a0"/><path d="M12.8 0.6V8H20.2Z" fill="#fff" opacity="0.6"/><g stroke="#fff" stroke-width="1.5"><path d="M3.4 7H9.6M3.4 11.8H17.6M3.4 16.6H17.6"/></g></svg>
<svg class="b" style="left:657.00px;top:1566.80px;" width="16" height="15" viewBox="0 0 16 15"><path d="M1 1H15L9.6 7.4V13L6.4 14.2V7.4Z" fill="none" stroke="#9fa9c2" stroke-width="1.2" stroke-linejoin="round"/></svg>
<div class="t ct" style="left:682.40px;top:1567px;font-size:20px;color:#1f2a4a;-webkit-text-stroke:0.5px #1f2a4a;letter-spacing:0.005px;transform:translate(0,0.6px);">Error &amp; Timeout Log Events</div>
</div></div>
</body></html>
